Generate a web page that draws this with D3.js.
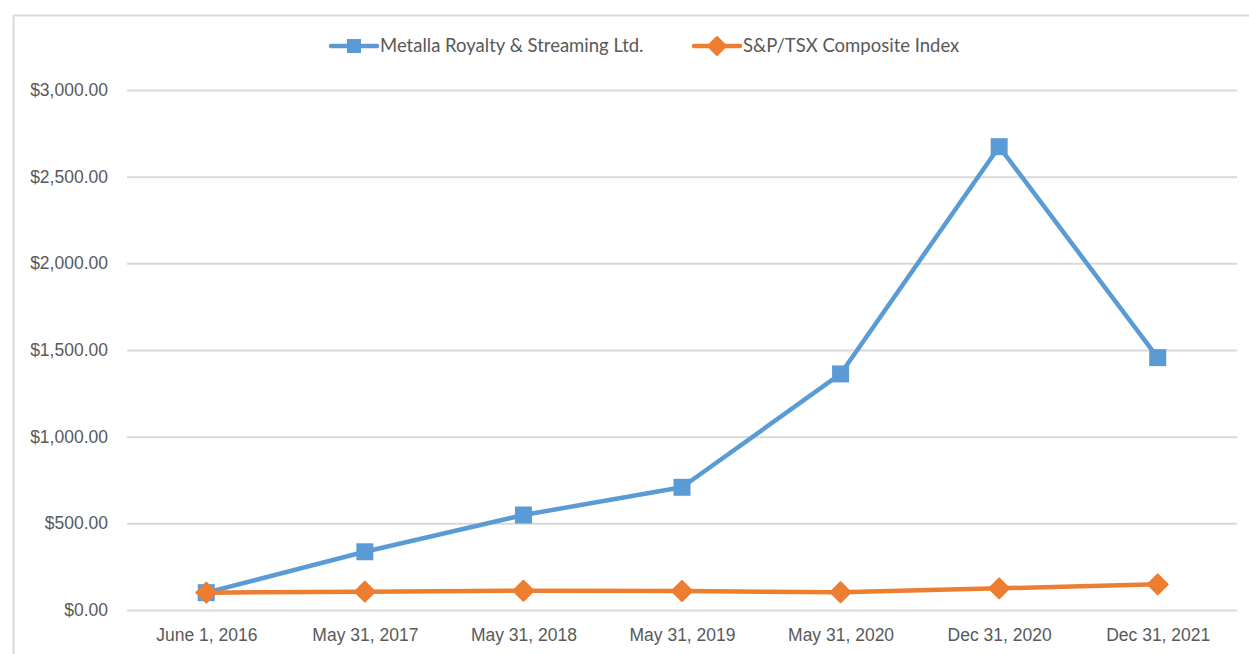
<!DOCTYPE html>
<html>
<head>
<meta charset="utf-8">
<script src="https://cdn.jsdelivr.net/npm/d3@7"></script>
<style>
  html, body { margin: 0; padding: 0; background: #fff; }
  svg { display: block; font-family: Lato, "Liberation Sans", sans-serif; }
</style>
</head>
<body>
<svg id="chart" width="1249" height="654"></svg>
<script>
const categories = ["June 1, 2016", "May 31, 2017", "May 31, 2018", "May 31, 2019", "May 31, 2020", "Dec 31, 2020", "Dec 31, 2021"];
const metallaValues = [100, 336, 548, 708, 1362, 2673, 1456];
const tsxValues = [100, 106, 111, 110, 102, 125, 148];
const yTicks = [0, 500, 1000, 1500, 2000, 2500, 3000];
const seriesNames = ["Metalla Royalty & Streaming Ltd.", "S&P/TSX Composite Index"];

const SVG_WIDTH = 1249;
const SVG_HEIGHT = 654;
const MARGIN = { left: 127, right: 12, top: 90, bottom: 44 };
const BLUE = "#5B9BD5";
const ORANGE = "#ED7D31";
const GRID = "#D9D9D9";
const TEXT = "#595959";

const svg = d3.select("#chart");

// chart frame
svg.append("rect")
  .attr("x", 13.5).attr("y", 15.5)
  .attr("width", SVG_WIDTH).attr("height", SVG_HEIGHT)
  .attr("fill", "none").attr("stroke", GRID).attr("stroke-width", 2);

const x = d3.scalePoint()
  .domain(categories)
  .range([MARGIN.left, SVG_WIDTH - MARGIN.right])
  .padding(0.5);

const y = d3.scaleLinear()
  .domain([0, 3000])
  .range([SVG_HEIGHT - MARGIN.bottom, MARGIN.top]);

const fmt = (d) => "$" + d3.format(",.2f")(d);

// y axis with gridlines
const yAxis = svg.append("g")
  .attr("transform", `translate(${MARGIN.left}, 0)`)
  .call(d3.axisLeft(y).tickValues(yTicks).tickFormat(fmt)
    .tickSize(-(SVG_WIDTH - MARGIN.left - MARGIN.right)).tickPadding(19));
yAxis.select(".domain").remove();
yAxis.selectAll(".tick line").attr("stroke", GRID).attr("stroke-width", 2);
yAxis.selectAll(".tick text")
  .attr("fill", TEXT).style("font-size", "17.5px");

// x axis labels
const xAxis = svg.append("g")
  .attr("transform", `translate(0, ${SVG_HEIGHT - MARGIN.bottom})`)
  .call(d3.axisBottom(x).tickSize(0).tickPadding(19));
xAxis.select(".domain").remove();
xAxis.selectAll(".tick text")
  .attr("fill", TEXT).style("font-size", "17.5px");

const line = d3.line()
  .x((d, i) => x(categories[i]))
  .y((d) => y(d));

// Metalla line + squares
svg.append("path")
  .datum(metallaValues)
  .attr("fill", "none").attr("stroke", BLUE).attr("stroke-width", 4.5)
  .attr("stroke-linejoin", "round")
  .attr("d", line);

svg.append("g").selectAll("rect")
  .data(metallaValues)
  .join("rect")
  .attr("x", (d, i) => x(categories[i]) - 8.5)
  .attr("y", (d) => y(d) - 8.5)
  .attr("width", 17).attr("height", 17)
  .attr("fill", BLUE);

// TSX line + diamonds
svg.append("path")
  .datum(tsxValues)
  .attr("fill", "none").attr("stroke", ORANGE).attr("stroke-width", 4.5)
  .attr("stroke-linejoin", "round")
  .attr("d", line);

const diamond = (cx, cy, r) =>
  `M${cx},${cy - r}L${cx + r},${cy}L${cx},${cy + r}L${cx - r},${cy}Z`;

svg.append("g").selectAll("path")
  .data(tsxValues)
  .join("path")
  .attr("d", (d, i) => diamond(x(categories[i]), y(d), 10))
  .attr("fill", ORANGE)
  .attr("stroke", ORANGE).attr("stroke-width", 2).attr("stroke-linejoin", "round");

// legend
const legend = svg.append("g").attr("transform", "translate(0, 46)");
const legendItems = [
  { name: seriesNames[0], color: BLUE, x: 331, marker: "square" },
  { name: seriesNames[1], color: ORANGE, x: 694, marker: "diamond" }
];
legendItems.forEach((item) => {
  legend.append("line")
    .attr("x1", item.x).attr("x2", item.x + 46)
    .attr("y1", 0).attr("y2", 0)
    .attr("stroke", item.color).attr("stroke-width", 4.5)
    .attr("stroke-linecap", "round");
  if (item.marker === "square") {
    legend.append("rect")
      .attr("x", item.x + 23 - 7).attr("y", -7)
      .attr("width", 14).attr("height", 14)
      .attr("fill", item.color);
  } else {
    legend.append("path")
      .attr("d", diamond(item.x + 23, 0, 9))
      .attr("fill", item.color)
      .attr("stroke", item.color).attr("stroke-width", 2).attr("stroke-linejoin", "round");
  }
  legend.append("text")
    .attr("x", item.x + 49).attr("y", 0)
    .attr("dy", "0.35em")
    .attr("fill", TEXT)
    .style("font-size", "18.5px")
    .text(item.name);
});
</script>
</body>
</html>
